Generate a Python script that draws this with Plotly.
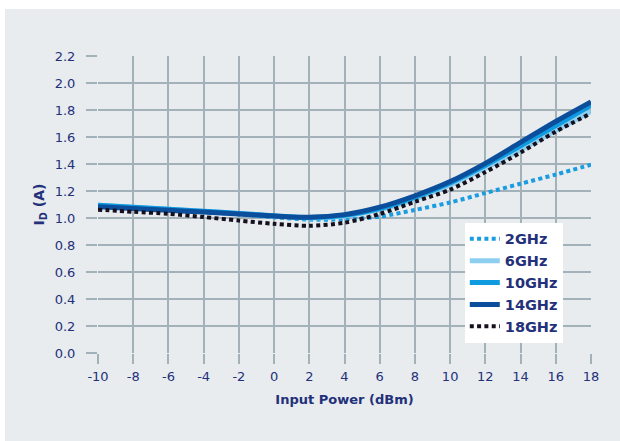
import plotly.graph_objects as go

x_dbm = [-10, -8, -6, -4, -2, 0, 2, 4, 6, 8, 10, 12, 14, 16, 18]

id_2ghz = [1.085, 1.072, 1.058, 1.043, 1.027, 1.005, 0.988, 0.990, 1.010, 1.060, 1.115, 1.185, 1.254, 1.322, 1.395]
id_6ghz = [1.095, 1.080, 1.064, 1.049, 1.033, 1.014, 1.000, 1.015, 1.062, 1.140, 1.245, 1.370, 1.505, 1.650, 1.790]
id_10ghz = [1.095, 1.080, 1.065, 1.050, 1.034, 1.016, 1.003, 1.020, 1.070, 1.155, 1.260, 1.390, 1.535, 1.685, 1.835]
id_14ghz = [1.083, 1.070, 1.057, 1.044, 1.029, 1.015, 1.005, 1.025, 1.080, 1.165, 1.270, 1.405, 1.560, 1.715, 1.860]
id_18ghz = [1.062, 1.046, 1.031, 1.007, 0.981, 0.957, 0.942, 0.965, 1.030, 1.120, 1.210, 1.340, 1.485, 1.640, 1.775]

x_ticks = list(range(-10, 19, 2))
y_ticks = [round(0.2 * i, 1) for i in range(12)]

FONT = "DejaVu Sans"
NAVY = "#23307a"
GRID = "#a3b1b9"
PANEL = "#e8ecef"

series = [
    ("2GHz", id_2ghz, "#1a9de0", 4, "4px,3.3px"),
    ("6GHz", id_6ghz, "#8ccff0", 5, "solid"),
    ("10GHz", id_10ghz, "#0f9be0", 5, "solid"),
    ("14GHz", id_14ghz, "#0b4f9c", 5, "solid"),
    ("18GHz", id_18ghz, "#16101e", 4, "4px,3.3px"),
]

fig = go.Figure()
for name, ys, color, w, dash in series:
    fig.add_trace(go.Scatter(
        x=x_dbm, y=ys, name=name, mode="lines",
        line=dict(color=color, width=w, dash=dash, shape="spline", smoothing=0.8),
    ))

W, H = 620, 441
ml, mr, mt, mb = 98, 29, 56, 88
pw = W - ml - mr
ph = H - mt - mb

fig.add_shape(
    type="rect", xref="paper", yref="paper", layer="below",
    x0=(5 - ml) / pw, x1=(W - ml) / pw,
    y0=-mb / ph, y1=(H - mb - 9) / ph,
    fillcolor=PANEL, line=dict(width=0),
)

fig.update_layout(
    width=W, height=H,
    margin=dict(l=ml, r=mr, t=mt, b=mb, pad=0),
    paper_bgcolor="white",
    plot_bgcolor=PANEL,
    font=dict(family=FONT, color=NAVY, size=13),
    showlegend=True,
    legend=dict(
        x=0.744, y=0.034, xanchor="left", yanchor="bottom",
        bgcolor="white", borderwidth=0,
        font=dict(family=FONT, size=14.5, color=NAVY, weight="bold"),
        itemwidth=30,
        entrywidth=74,
        tracegroupgap=0,
    ),
)

fig.update_xaxes(
    range=[-10, 18], tickvals=x_ticks, ticktext=[str(v) for v in x_ticks],
    showgrid=True, gridcolor=GRID, gridwidth=2,
    zeroline=False, showline=False,
    ticks="outside", ticklen=10, tickcolor=GRID, tickwidth=2,
    ticklabelstandoff=1,
    tickfont=dict(size=13, color=NAVY),
    title=dict(text="<b>Input Power (dBm)</b>", font=dict(size=13, color=NAVY), standoff=12),
)
fig.update_yaxes(
    range=[0, 2.2], tickvals=y_ticks, ticktext=[f"{v:.1f}" for v in y_ticks],
    showgrid=True, gridcolor=GRID, gridwidth=2,
    zeroline=False, showline=False,
    ticks="outside", ticklen=11, tickcolor=GRID, tickwidth=2,
    ticklabelstandoff=8,
    tickfont=dict(size=13, color=NAVY),
    title=dict(text="<b>I<sub>D</sub> (A)</b>", font=dict(size=14, color=NAVY), standoff=6),
)

fig.write_html("out.html")
